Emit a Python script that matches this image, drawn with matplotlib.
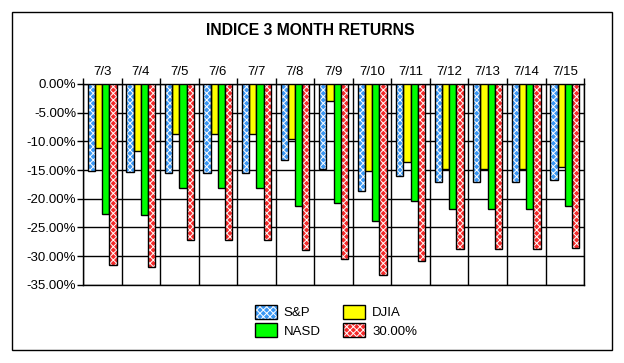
import numpy as np
import matplotlib.pyplot as plt
from matplotlib.patches import Rectangle
from matplotlib.ticker import FuncFormatter, MultipleLocator

plt.rcParams['font.family'] = ['Liberation Sans', 'DejaVu Sans']
plt.rcParams['hatch.linewidth'] = 0.7

dates = ['7/3', '7/4', '7/5', '7/6', '7/7', '7/8', '7/9',
         '7/10', '7/11', '7/12', '7/13', '7/14', '7/15']
sp = [-15.2, -15.3, -15.5, -15.5, -15.5, -13.2, -14.8,
      -18.7, -16.0, -17.1, -17.1, -17.1, -16.8]
djia = [-11.2, -11.6, -8.8, -8.8, -8.8, -9.6, -3.0,
        -15.2, -13.6, -14.9, -14.9, -14.9, -14.5]
nasd = [-22.6, -22.9, -18.2, -18.2, -18.2, -21.3, -20.8,
        -23.9, -20.4, -21.8, -21.8, -21.8, -21.3]
thirty = [-31.6, -31.9, -27.2, -27.2, -27.2, -29.0, -30.4,
          -33.3, -30.9, -28.8, -28.8, -28.8, -28.6]

series = [('S&P', sp, '#3A98F5', True),
          ('DJIA', djia, '#FFFF00', False),
          ('NASD', nasd, '#00FF00', False),
          ('30.00%', thirty, '#F52A2A', True)]

fig = plt.figure(figsize=(6.24, 3.63), dpi=100)
ax = fig.add_axes([0.133, 0.215, 0.803, 0.554])

x = np.arange(len(dates))
w = 0.1875
offsets = [-1.5 * w, -0.5 * w, 0.5 * w, 1.5 * w]
handles = []
for (name, vals, col, dither), off in zip(series, offsets):
    if dither:
        ax.bar(x + off, vals, w, color=col, hatch='xxxxx', edgecolor='white',
               linewidth=0, zorder=3)
        ax.bar(x + off, vals, w, fill=False, edgecolor='black',
               linewidth=1, zorder=4)
        fillp = Rectangle((0, 0), 1, 1, facecolor=col, hatch='xxxxx',
                          edgecolor='white', linewidth=0)
        edgep = Rectangle((0, 0), 1, 1, fill=False, edgecolor='black',
                          linewidth=1)
        handles.append((fillp, edgep))
    else:
        ax.bar(x + off, vals, w, color=col, edgecolor='black',
               linewidth=1, zorder=3)
        handles.append(Rectangle((0, 0), 1, 1, facecolor=col,
                                 edgecolor='black', linewidth=1))

ax.set_xlim(-0.5, len(dates) - 0.5)
ax.set_ylim(-35, 0)
ax.yaxis.set_major_locator(MultipleLocator(5))
ax.yaxis.set_major_formatter(FuncFormatter(lambda v, p: f'{v:.2f}%'))
ax.grid(axis='y', color='black', linewidth=1, zorder=1)

ax.xaxis.tick_top()
ax.set_xticks(x)
ax.set_xticklabels(dates)
ax.tick_params(axis='x', which='major', length=0, pad=4, labelsize=9.5)
ax.set_xticks(np.arange(len(dates) + 1) - 0.5, minor=True)
ax.tick_params(axis='x', which='minor', length=4, width=1, top=True, bottom=False)
ax.grid(axis='x', which='minor', color='black', linewidth=1, zorder=1)
ax.tick_params(axis='y', length=4, width=1, labelsize=9.5, pad=1)
for s in ax.spines.values():
    s.set_linewidth(1)

fig.text(0.497, 0.915, 'INDICE 3 MONTH RETURNS', ha='center', va='center',
         fontsize=11.3, fontweight='bold')

labels = [s[0] for s in series]
order = [0, 2, 1, 3]
fig.legend([handles[i] for i in order], [labels[i] for i in order],
           ncol=2, loc='upper left', bbox_to_anchor=(0.408, 0.159),
           frameon=False, fontsize=9.5, handlelength=1.7, handleheight=1.2,
           columnspacing=1.7, labelspacing=0.3, handletextpad=0.5,
           borderpad=0, borderaxespad=0)

fig.add_artist(Rectangle((12 / 624, 1 - 350 / 363), 600 / 624, 338 / 363,
                         transform=fig.transFigure, fill=False,
                         edgecolor='black', linewidth=1))

fig.savefig('out.png', dpi=100)
